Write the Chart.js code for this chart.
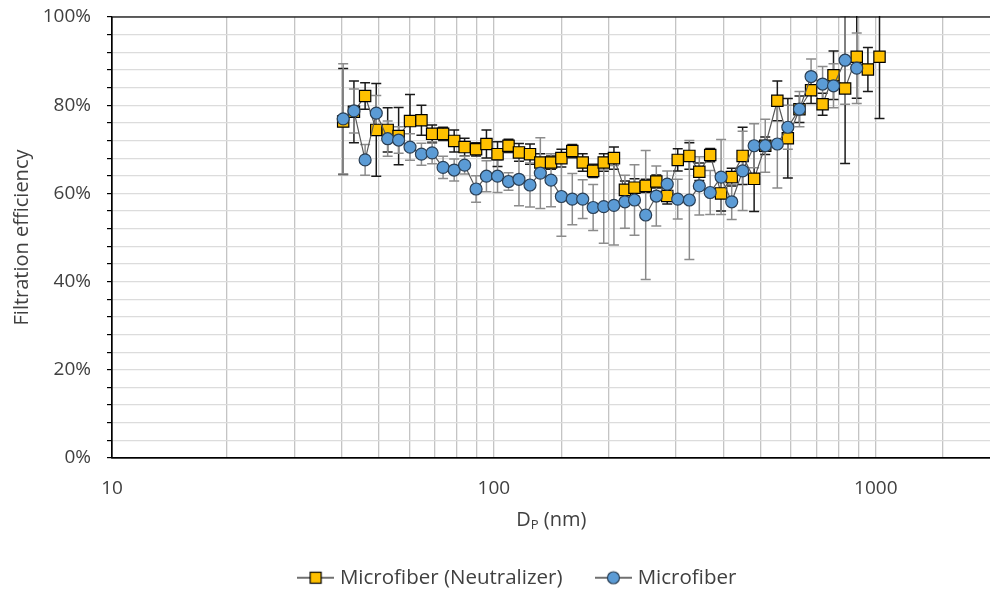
<!DOCTYPE html>
<html>
<head>
<meta charset="utf-8">
<script src="https://cdn.jsdelivr.net/npm/chart.js@4.4.1/dist/chart.umd.min.js"></script>
<style>
    html, body { margin: 0; padding: 0; background: #fff; overflow: hidden; }
    #wrap { width: 1000px; height: 594px; }
</style>
</head>
<body>
<div id="wrap"><canvas id="chart" width="1000" height="594"></canvas></div>
<script>
// diametri delle particelle (nm)
const diametri = [40.3, 43.0, 46.0, 49.2, 52.7, 56.3, 60.3, 64.6, 68.9, 73.6,
    78.7, 83.8, 89.8, 95.6, 102.2, 109.2, 116.3, 124.3, 132.3, 141.1,
    150.2, 160.4, 170.8, 181.9, 193.9, 206.2, 220.3, 233.4, 249.7, 266.2,
    284.3, 302.9, 324.9, 345.0, 368.4, 393.4, 419.4, 447.9, 480.1, 513.4,
    552.2, 588.3, 631.0, 676.8, 725.4, 774.8, 830.9, 891.2, 953.3, 1022.4];

// Microfiber (Neutralizer), efficienza in %
const effNeutralizer = [76.3, 78.5, 82.1, 74.4, 74.4, 73.0, 76.4, 76.6, 73.5, 73.5,
    71.9, 70.5, 70.0, 71.2, 68.9, 70.8, 69.3, 68.9, 67.0, 67.0,
    68.0, 69.6, 67.0, 65.1, 67.0, 68.0, 60.8, 61.3, 61.7, 62.7,
    59.4, 67.6, 68.5, 64.9, 68.7, 60.0, 63.7, 68.5, 63.3, 70.8,
    81.0, 72.5, 79.1, 83.4, 80.2, 86.8, 83.8, 91.0, 88.1, 91.0];
const errNeutralizer = [12, 7, 3, 10.5, 5, 6.5, 6, 3.4, 2, 1.5,
    2.5, 2, 1.5, 3.2, 2.8, 1.5, 2, 2.3, 2, 1.5,
    2, 1.5, 2, 1.5, 2, 2.5, 2, 2, 1.5, 1.5,
    1.8, 2.5, 3, 2, 1.5, 4, 2, 6.5, 7.4, 2,
    4.5, 9, 3, 3, 2.5, 5.5, 17, 9.4, 5, 14];

// Microfiber, efficienza in %
const effMicrofiber = [76.9, 78.7, 67.6, 78.2, 72.4, 72.1, 70.5, 68.9, 69.2, 65.9,
    65.3, 66.4, 61.0, 63.9, 63.9, 62.7, 63.2, 61.9, 64.6, 63.0,
    59.3, 58.7, 58.7, 56.8, 57.0, 57.3, 58.1, 58.5, 55.1, 59.4,
    62.1, 58.7, 58.5, 61.7, 60.2, 63.7, 58.1, 65.1, 70.8, 70.8,
    71.2, 75.0, 79.1, 86.5, 84.8, 84.4, 90.2, 88.4];
const errMicrofiber = [12.5, 5, 3.5, 4, 4, 3, 3, 2.5, 2.5, 2.5,
    2.5, 2, 3, 3.5, 3.7, 2, 6, 5, 8, 6,
    9, 5.8, 4.4, 5.2, 8.3, 9, 6, 8, 14.6, 6.8,
    3, 4.5, 13.5, 6.6, 5, 8.5, 4, 9, 5, 6,
    10, 5, 4, 4, 4, 5, 10, 8];

const xTickLabels = [10, 100, 1000];
const yTickLabels = [0, 20, 40, 60, 80, 100];

const FONT = "'Open Sans', sans-serif";
const TEXT = '#404040';

function punti(eff) {
    return eff.map((v, i) => ({ x: diametri[i], y: v }));
}

// marker della legenda: linea + simbolo
function legendMarker(fill, stroke, shape) {
    const c = document.createElement('canvas');
    c.width = 37; c.height = 16;
    const g = c.getContext('2d');
    g.strokeStyle = '#404040';
    g.lineWidth = 1.5;
    g.beginPath(); g.moveTo(0, 8); g.lineTo(37, 8); g.stroke();
    g.fillStyle = fill; g.strokeStyle = stroke; g.lineWidth = 1.2;
    if (shape === 'rect') {
        g.fillRect(13, 2.5, 11, 11); g.strokeRect(13, 2.5, 11, 11);
    } else {
        g.beginPath(); g.arc(18.5, 8, 6, 0, Math.PI * 2); g.fill(); g.stroke();
    }
    return c;
}
const markers = [
    legendMarker('#FFC000', '#000', 'rect'),
    legendMarker('#5B9BD5', '#2a3f55', 'circle')
];

// barre d'errore disegnate sotto i punti + bordo dell'area
const errorBars = {
    id: 'errorBars',
    beforeDatasetsDraw(chart) {
        const { ctx, chartArea } = chart;
        const yScale = chart.scales.y;
        ctx.save();
        ctx.beginPath();
        ctx.rect(chartArea.left, chartArea.top - 1, chartArea.right - chartArea.left, chartArea.bottom - chartArea.top + 2);
        ctx.clip();
        chart.data.datasets.forEach((ds, i) => {
            const meta = chart.getDatasetMeta(i);
            ctx.strokeStyle = ds.errorColor;
            ctx.lineWidth = 1.5;
            meta.data.forEach((pt, j) => {
                const e = ds.errors[j];
                const yTop = yScale.getPixelForValue(ds.data[j].y + e);
                const yBot = yScale.getPixelForValue(ds.data[j].y - e);
                ctx.beginPath();
                ctx.moveTo(pt.x, yTop); ctx.lineTo(pt.x, yBot);
                ctx.moveTo(pt.x - 5, yTop); ctx.lineTo(pt.x + 5, yTop);
                ctx.moveTo(pt.x - 5, yBot); ctx.lineTo(pt.x + 5, yBot);
                ctx.stroke();
            });
        });
        ctx.restore();
        ctx.save();
        ctx.strokeStyle = '#000';
        ctx.lineWidth = 1.2;
        ctx.strokeRect(chartArea.left, chartArea.top, chartArea.right - chartArea.left, chartArea.bottom - chartArea.top);
        ctx.restore();
    }
};

// titolo asse x con pedice: D_P (nm)
const xTitle = {
    id: 'xTitle',
    afterDraw(chart) {
        const { ctx, chartArea } = chart;
        const big = `20px ${FONT}`, small = `13px ${FONT}`;
        ctx.save();
        ctx.fillStyle = TEXT;
        ctx.textAlign = 'left';
        ctx.textBaseline = 'alphabetic';
        ctx.font = big;
        const wD = ctx.measureText('D').width, wR = ctx.measureText(' (nm)').width;
        ctx.font = small;
        const wP = ctx.measureText('P').width;
        let x = (chartArea.left + chartArea.right) / 2 - (wD + wP + wR) / 2;
        const y = 526;
        ctx.font = big; ctx.fillText('D', x, y); x += wD;
        ctx.font = small; ctx.fillText('P', x, y + 3); x += wP;
        ctx.font = big; ctx.fillText(' (nm)', x, y);
        ctx.restore();
    }
};

// sposta la legenda come nell'originale
const legendShift = {
    id: 'legendShift',
    afterLayout(chart) {
        chart.legend.left += 20;
        chart.legend.right += 20;
    }
};

function noPadding(scale) {
    scale.paddingLeft = 0; scale.paddingRight = 0;
    scale.paddingTop = 0; scale.paddingBottom = 0;
}

const ctx = document.getElementById('chart').getContext('2d');
new Chart(ctx, {
    type: 'scatter',
    data: {
        datasets: [{
            label: 'Microfiber (Neutralizer)',
            data: punti(effNeutralizer),
            errors: errNeutralizer,
            errorColor: '#1a1a1a',
            showLine: true,
            borderColor: '#595959',
            borderWidth: 1.2,
            pointStyle: 'rect',
            pointRadius: 8,
            pointBackgroundColor: '#FFC000',
            pointBorderColor: '#000',
            pointBorderWidth: 1.2,
            order: 2
        }, {
            label: 'Microfiber',
            data: punti(effMicrofiber),
            errors: errMicrofiber,
            errorColor: '#8c8c8c',
            showLine: true,
            borderColor: '#595959',
            borderWidth: 1.2,
            pointStyle: 'circle',
            pointRadius: 6,
            pointBackgroundColor: '#5B9BD5',
            pointBorderColor: '#2a3f55',
            pointBorderWidth: 1.2,
            order: 1
        }]
    },
    options: {
        responsive: false,
        animation: false,
        layout: { padding: { left: 0, right: 2, top: 17, bottom: -4 } },
        plugins: {
            tooltip: { enabled: false },
            legend: {
                position: 'bottom',
                labels: {
                    usePointStyle: true,
                    pointStyleWidth: 28,
                    padding: 37,
                    color: TEXT,
                    font: { family: FONT, size: 20.5 },
                    sort: (a, b) => a.datasetIndex - b.datasetIndex,
                    generateLabels: (chart) => {
                        const items = Chart.defaults.plugins.legend.labels.generateLabels(chart);
                        items.forEach(it => { it.pointStyle = markers[it.datasetIndex]; });
                        return items;
                    }
                }
            }
        },
        scales: {
            x: {
                type: 'logarithmic',
                min: 10,
                max: 2000,
                afterFit: (scale) => { noPadding(scale); scale.height = 72.5; },
                grid: { color: '#c4c4c4', lineWidth: 1.3, drawTicks: false },
                border: { color: '#000', width: 1.2 },
                ticks: {
                    autoSkip: false,
                    maxRotation: 0,
                    padding: 19,
                    color: TEXT,
                    font: { family: FONT, size: 19 },
                    callback: (v) => xTickLabels.includes(v) ? String(v) : ''
                }
            },
            y: {
                min: 0,
                max: 100,
                afterFit: (scale) => { noPadding(scale); scale.width = 112; },
                grid: { color: '#dcdcdc', lineWidth: 1.2, tickColor: '#000', tickLength: 5 },
                border: { color: '#000', width: 1.2 },
                ticks: {
                    stepSize: 4,
                    autoSkip: false,
                    padding: 16,
                    color: TEXT,
                    font: { family: FONT, size: 19 },
                    callback: (v) => yTickLabels.includes(v) ? v + '%' : ''
                },
                title: {
                    display: true,
                    text: 'Filtration efficiency',
                    color: TEXT,
                    font: { family: FONT, size: 20 },
                    padding: { top: 10, bottom: 0 }
                }
            }
        }
    },
    plugins: [errorBars, xTitle, legendShift]
});
</script>
</body>
</html>
